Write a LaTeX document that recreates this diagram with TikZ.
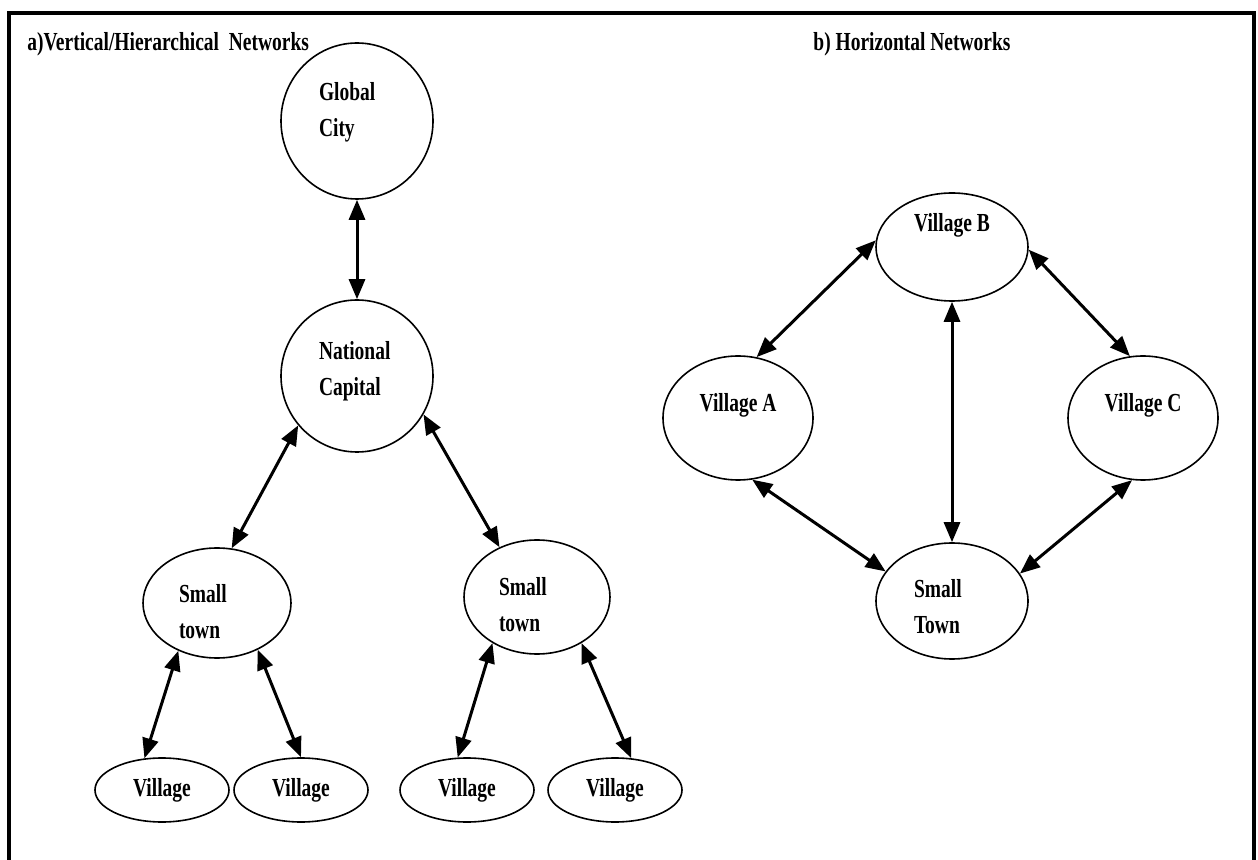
\documentclass[tikz,border=0pt]{standalone}
\usepackage{fontspec}
\setmainfont{Liberation Serif}[FakeStretch=0.75]
\usetikzlibrary{shapes.geometric}
\usetikzlibrary{arrows.meta}

\begin{document}
\begin{tikzpicture}[
    x=0.5pt,
    y=-0.5pt,
    place/.style={draw, ellipse, line width=0.8pt, inner sep=0pt},
    dims/.style 2 args={minimum width=#1pt, minimum height=#2pt},
    txt/.style={font=\fontsize{13}{18}\selectfont\bfseries, inner sep=0pt},
    twoline/.style={txt, align=left, text width=38pt},
    link/.style={line width=1.5pt, {Triangle[length=10pt,width=8pt]}-{Triangle[length=10pt,width=8pt]}}
]
\useasboundingbox (0,0) rectangle (1258,860);

% Frame
\draw[line width=2pt] (9,880) -- (9,13) -- (1254,13) -- (1254,880);

% Titles
\node[txt, anchor=base west] (titleA) at (27,51) {a)Vertical/Hierarchical\ \ Networks};
\node[txt, anchor=base west] (titleB) at (813,51) {b) Horizontal Networks};

% Vertical network
\node[place, dims={76}{78}] (gc) at (357,121) {};
\node[place, dims={76}{76}] (nc) at (357,376) {};
\node[place, dims={74}{55}] (stl) at (217,603) {};
\node[place, dims={73}{57}] (str) at (537,597) {};
\foreach \n/\x in {v1/162, v2/301, v3/467, v4/615}
    \node[place, dims={67}{32}, txt] (\n) at (\x,790) {Village};

\node[twoline] (gcText) at ([yshift=4.5pt]gc.center) {Global\\City};
\node[twoline] (ncText) at ([yshift=2.5pt]nc.center) {National\\Capital};
\node[twoline] (stlText) at ([yshift=-4.5pt]stl.center) {Small\\town};
\node[twoline] (strText) at ([yshift=-4pt]str.center) {Small\\town};

\draw[link] (gc.south) -- (nc.north);
\draw[link] (nc.220) -- (stl.75);
\draw[link] (nc.330) -- (str.127);
\draw[link] (stl.231) -- (v1.119);
\draw[link] (stl.311) -- (v2.90);
\draw[link] (str.226) -- (v3.106);
\draw[link] (str.314) -- (v4.63);

% Horizontal network
\node[place, dims={76}{54}] (vb) at (952,247) {};
\node[place, dims={75}{62}] (va) at (738,418) {};
\node[place, dims={75}{62}] (vc) at (1143,418) {};
\node[place, dims={76}{58}] (st) at (952,601) {};

\node[txt] (vbText) at ([yshift=11pt]vb.center) {Village B};
\node[txt] (vaText) at ([yshift=6.5pt]va.center) {Village A};
\node[txt] (vcText) at ([yshift=6.5pt]vc.center) {Village C};
\node[twoline] (stText) at ([yshift=-3pt]st.center) {Small\\Town};

\draw[link] (vb.175) -- (va.73);
\draw[link] (vb.south) -- (st.north);
\draw[link] (vb.358) -- (vc.102);
\draw[link] (va.283) -- (st.156);
\draw[link] (vc.260) -- (st.22);
\end{tikzpicture}
\end{document}
